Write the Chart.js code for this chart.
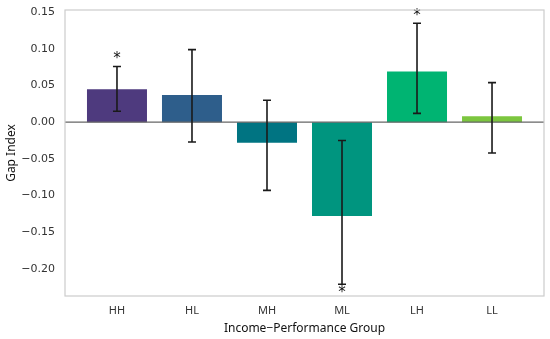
<!DOCTYPE html>
<html>
<head>
<meta charset="utf-8">
<script src="https://cdn.jsdelivr.net/npm/chart.js@4"></script>
<style>
  html, body { margin: 0; padding: 0; background: #fff; }
  #wrap { width: 550px; height: 339px; }
</style>
</head>
<body>
<div id="wrap"><canvas id="gapChart"></canvas></div>
<script>
// groups and values
const groups = ['HH', 'HL', 'MH', 'ML', 'LH', 'LL'];
const gapIndex = [0.045, 0.037, -0.028, -0.128, 0.069, 0.008];
const ciLow = [0.015, -0.027, -0.093, -0.025, 0.012, -0.042];
const ciHigh = [0.076, 0.099, 0.030, -0.221, 0.135, 0.054];
const significant = [true, false, false, true, true, false];
const barColors = ['#4e3a7e', '#2e5e8b', '#007482', '#00957f', '#00b472', '#7cc63f'];
const yTicks = [-0.20, -0.15, -0.10, -0.05, 0.00, 0.05, 0.10, 0.15];

const fmt = v => v.toFixed(2).replace('-', '\u2212');

// frame, zero line, error bars and stars
const extras = {
    id: 'extras',
    afterDatasetsDraw(chart) {
        const c = chart.ctx;
        const a = chart.chartArea;
        const x = chart.scales.x, y = chart.scales.y;
        c.save();

        // zero line
        c.strokeStyle = '#666';
        c.lineWidth = 1.2;
        c.beginPath();
        c.moveTo(a.left, y.getPixelForValue(0));
        c.lineTo(a.right, y.getPixelForValue(0));
        c.stroke();

        // error bars
        c.strokeStyle = '#1a1a1a';
        c.lineWidth = 1.6;
        groups.forEach((g, i) => {
            const px = x.getPixelForValue(i);
            const y1 = y.getPixelForValue(ciLow[i]);
            const y2 = y.getPixelForValue(ciHigh[i]);
            c.beginPath();
            c.moveTo(px, y1); c.lineTo(px, y2);
            c.moveTo(px - 4, y1); c.lineTo(px + 4, y1);
            c.moveTo(px - 4, y2); c.lineTo(px + 4, y2);
            c.stroke();
        });

        // significance stars
        c.fillStyle = '#111';
        c.font = '15px "DejaVu Sans"';
        c.textAlign = 'center';
        c.textBaseline = 'alphabetic';
        groups.forEach((g, i) => {
            if (!significant[i]) return;
            const px = x.getPixelForValue(i);
            const up = gapIndex[i] >= 0;
            const end = up ? Math.max(ciLow[i], ciHigh[i]) : Math.min(ciLow[i], ciHigh[i]);
            const py = y.getPixelForValue(end);
            c.fillText('*', px, up ? py - 3 : py + 13);
        });

        // light frame
        c.strokeStyle = '#cccccc';
        c.lineWidth = 1.2;
        c.strokeRect(a.left, a.top, a.right - a.left, a.bottom - a.top);
        c.restore();
    }
};

new Chart(document.getElementById('gapChart'), {
    type: 'bar',
    data: {
        datasets: [{
            data: gapIndex.map((v, i) => ({ x: i, y: v })),
            backgroundColor: barColors,
            borderWidth: 0,
            categoryPercentage: 1.0,
            barPercentage: 0.8
        }]
    },
    options: {
        responsive: true,
        maintainAspectRatio: false,
        animation: false,
        layout: { padding: { top: 10, right: 6, left: 0, bottom: 0 } },
        plugins: {
            legend: { display: false },
            tooltip: { enabled: false }
        },
        scales: {
            x: {
                type: 'linear',
                min: -0.693,
                max: 5.693,
                offset: false,
                afterBuildTicks: s => { s.ticks = groups.map((g, i) => ({ value: i })); },
                afterFit: s => { s.height = 43; s.paddingLeft = 0; s.paddingRight = 0; },
                ticks: {
                    callback: v => groups[v],
                    color: '#333',
                    font: { family: 'Noto Sans', size: 11 },
                    padding: 8,
                    maxRotation: 0,
                    autoSkip: false
                },
                grid: { display: false, drawTicks: false },
                border: { display: false },
                title: {
                    display: true,
                    text: 'Income\u2212Performance Group',
                    color: '#111',
                    font: { family: 'Noto Sans', size: 12 },
                    padding: { top: 0, bottom: 3 }
                }
            },
            y: {
                min: -0.237,
                max: 0.153,
                afterBuildTicks: s => { s.ticks = yTicks.map(v => ({ value: v })); },
                afterFit: s => { s.width = 65; s.paddingTop = 0; s.paddingBottom = 0; },
                ticks: {
                    callback: v => fmt(v),
                    color: '#333',
                    font: { family: 'DejaVu Sans', size: 11 },
                    padding: 10
                },
                grid: { display: false, drawTicks: false },
                border: { display: false },
                title: {
                    display: true,
                    text: 'Gap Index',
                    color: '#111',
                    font: { family: 'Noto Sans', size: 12 },
                    padding: { top: 4, bottom: 0 }
                }
            }
        }
    },
    plugins: [extras]
});
</script>
</body>
</html>
